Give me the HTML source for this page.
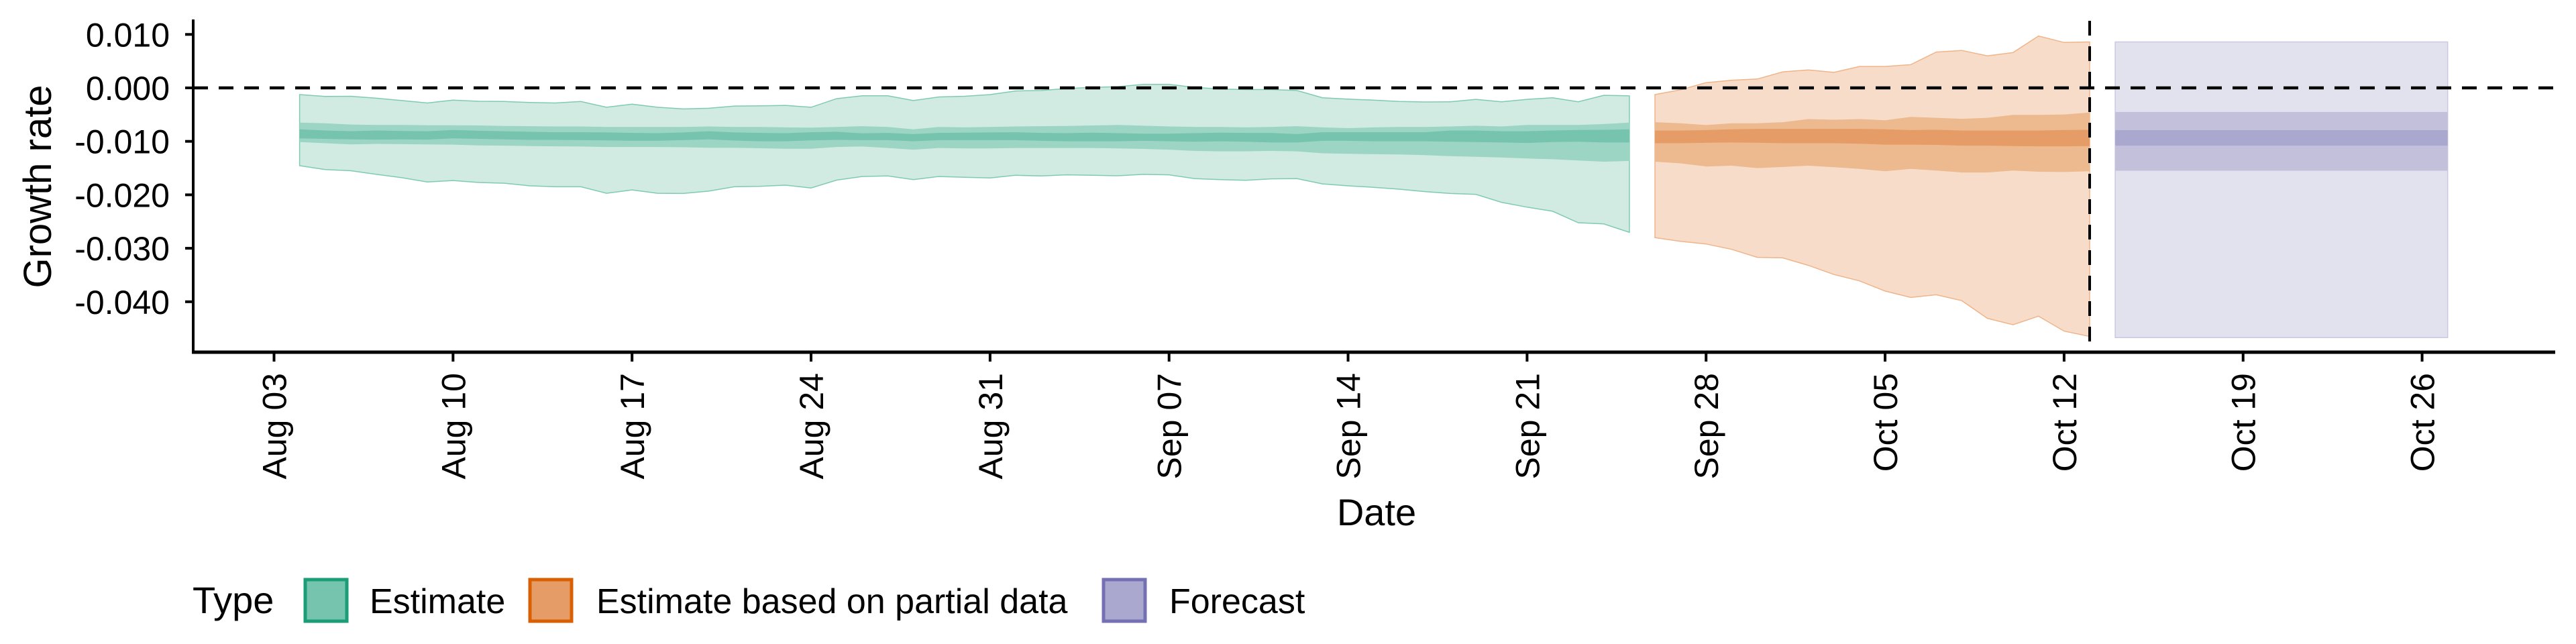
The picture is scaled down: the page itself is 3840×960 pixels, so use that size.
<!DOCTYPE html>
<html><head><meta charset="utf-8"><style>
html,body{margin:0;padding:0;background:#fff}
svg{display:block}
text{font-family:"Liberation Sans",Arial,sans-serif;fill:#000}
</style></head><body>
<svg id="chart" width="3840" height="960" viewBox="0 0 3840 960">
<g id="plot"></g>
<g id="axes"></g>
</svg>
<script>
// Days counted from Aug 03
const estimateStartDay = 1;
const partialStartDay = 54;
const forecastStartDay = 72;
const cutoffDay = 71;
const xTickLabels = ["Aug 03","Aug 10","Aug 17","Aug 24","Aug 31","Sep 07","Sep 14","Sep 21","Sep 28","Oct 05","Oct 12","Oct 19","Oct 26"];
const xTickDays = [0,7,14,21,28,35,42,49,56,63,70,77,84];
const yTickValues = [0.010,0.000,-0.010,-0.020,-0.030,-0.040];
const yTickLabels = ["0.010","0.000","-0.010","-0.020","-0.030","-0.040"];

const estUpper90 = [-0.00126,-0.00161,-0.00157,-0.00193,-0.00237,-0.00282,-0.00229,-0.00251,-0.00255,-0.00273,-0.00282,-0.00255,-0.00363,-0.00305,-0.00363,-0.00394,-0.00381,-0.0034,-0.00336,-0.00327,-0.00363,-0.00202,
-0.00148,-0.00148,-0.00237,-0.0017,-0.00157,-0.00126,-0.00058,-0.00049,-0.00013,0.00009,0.00022,0.00067,0.00067,0.00009,-0.00022,-0.00031,-0.00031,-0.00049,-0.00184,-0.00211,-0.00229,-0.00255,-0.00264,-0.0026,-0.00215,-0.0026,-0.00215,-0.00184,-0.0026,-0.00139,-0.00148];
const estLower90 = [-0.01456,-0.01527,-0.0155,-0.01617,-0.0168,-0.0176,-0.01733,-0.01769,-0.01783,-0.01832,-0.0185,-0.0185,-0.01971,-0.01908,-0.01971,-0.01975,-0.01931,-0.0185,-0.01841,-0.01819,-0.01872,-0.01725,
-0.01657,-0.01648,-0.01716,-0.01657,-0.01671,-0.01684,-0.01635,-0.01648,-0.01626,-0.01635,-0.01644,-0.01617,-0.01626,-0.01698,-0.01716,-0.01729,-0.01702,-0.01698,-0.01796,-0.01832,-0.01859,-0.01895,-0.0194,-0.01975,-0.01993,-0.02141,-0.02231,-0.02307,-0.02522,-0.02544,-0.02701];
const estUpper50 = [-0.0065,-0.00663,-0.00685,-0.00694,-0.00694,-0.00699,-0.00699,-0.00703,-0.00712,-0.00717,-0.00721,-0.00721,-0.0073,-0.0073,-0.0073,-0.0073,-0.00721,-0.0073,-0.0073,-0.00739,-0.00744,-0.0073,
-0.00717,-0.0073,-0.00775,-0.0073,-0.00739,-0.0073,-0.00721,-0.00717,-0.00712,-0.00703,-0.00694,-0.00708,-0.00721,-0.0073,-0.0073,-0.00739,-0.0073,-0.00717,-0.00739,-0.00753,-0.00739,-0.0073,-0.0073,-0.00721,-0.00708,-0.00721,-0.00694,-0.00694,-0.00694,-0.00676,-0.0065];
const estLower50 = [-0.01012,-0.01035,-0.01057,-0.01048,-0.01053,-0.01057,-0.01062,-0.01075,-0.0108,-0.01089,-0.01093,-0.01097,-0.01106,-0.01106,-0.01106,-0.01111,-0.0112,-0.0112,-0.01129,-0.01138,-0.01138,-0.01106,
-0.01097,-0.01124,-0.01156,-0.01124,-0.01133,-0.01133,-0.01124,-0.01124,-0.01124,-0.01124,-0.01133,-0.01142,-0.01156,-0.01178,-0.01187,-0.01187,-0.01178,-0.01187,-0.01223,-0.01232,-0.01241,-0.01245,-0.01259,-0.01277,-0.0129,-0.01303,-0.01321,-0.01335,-0.01357,-0.0138,-0.01366];
const estUpper20 = [-0.00775,-0.00797,-0.00811,-0.00797,-0.00806,-0.00811,-0.00788,-0.00802,-0.00811,-0.0082,-0.00829,-0.00829,-0.00833,-0.00842,-0.00847,-0.00833,-0.00811,-0.00833,-0.00842,-0.00847,-0.00829,-0.0082,
-0.00851,-0.00842,-0.00865,-0.00842,-0.00838,-0.00833,-0.00829,-0.00842,-0.00847,-0.00838,-0.00847,-0.00856,-0.00856,-0.00847,-0.00838,-0.00842,-0.00842,-0.00865,-0.00829,-0.00829,-0.00829,-0.00829,-0.00829,-0.00797,-0.00797,-0.00811,-0.00811,-0.00797,-0.00788,-0.00784,-0.00775];
const estLower20 = [-0.00945,-0.00954,-0.00963,-0.00968,-0.00963,-0.00968,-0.00945,-0.00954,-0.00963,-0.00972,-0.00972,-0.00977,-0.00981,-0.0099,-0.0099,-0.00977,-0.00963,-0.00985,-0.00999,-0.00999,-0.00981,-0.00972,
-0.00977,-0.00977,-0.00999,-0.00977,-0.00977,-0.00977,-0.00977,-0.0099,-0.00999,-0.00999,-0.00999,-0.0099,-0.00999,-0.01008,-0.00999,-0.01008,-0.01021,-0.01021,-0.0099,-0.0099,-0.00999,-0.00999,-0.00999,-0.01008,-0.01012,-0.01021,-0.0103,-0.01012,-0.01008,-0.01021,-0.01021];

const partUpper90 = [-0.00126,-0.00036,0.00098,0.00143,0.00166,0.003,0.00336,0.0029,0.004,0.004,0.00434,0.0067,0.007,0.006,0.0066,0.0097,0.0085,0.0086];
const partLower90 = [-0.028,-0.0287,-0.0292,-0.0302,-0.0317,-0.0318,-0.0332,-0.0349,-0.0361,-0.038,-0.0392,-0.0387,-0.0398,-0.0431,-0.0443,-0.0427,-0.0455,-0.0465];
const partUpper50 = [-0.00641,-0.00663,-0.00695,-0.00663,-0.00663,-0.00641,-0.00583,-0.00596,-0.00583,-0.00605,-0.00542,-0.0056,-0.00578,-0.0056,-0.00506,-0.00506,-0.00497,-0.00462];
const partLower50 = [-0.0138,-0.01411,-0.0147,-0.01456,-0.01501,-0.01479,-0.01456,-0.01483,-0.01514,-0.01559,-0.01514,-0.01546,-0.01582,-0.01582,-0.01546,-0.01568,-0.01573,-0.01559];
const partUpper20 = [-0.00798,-0.00798,-0.00789,-0.00775,-0.00766,-0.00766,-0.00766,-0.00766,-0.00766,-0.00775,-0.00789,-0.00784,-0.00798,-0.00798,-0.00798,-0.00798,-0.00789,-0.00784];
const partLower20 = [-0.01035,-0.01035,-0.01026,-0.01021,-0.01026,-0.01035,-0.01035,-0.01035,-0.01044,-0.01062,-0.01062,-0.01066,-0.0108,-0.0108,-0.01089,-0.01093,-0.01093,-0.01089];

const fcUpper90 = [0.0086,0.0086,0.0086,0.0086,0.0086,0.0086,0.0086,0.0086,0.0086,0.0086,0.0086,0.0086,0.0086,0.0086];
const fcLower90 = [-0.0467,-0.0467,-0.0467,-0.0467,-0.0467,-0.0467,-0.0467,-0.0467,-0.0467,-0.0467,-0.0467,-0.0467,-0.0467,-0.0467];
const fcUpper50 = [-0.0045,-0.0045,-0.0045,-0.0045,-0.0045,-0.0045,-0.0045,-0.0045,-0.0045,-0.0045,-0.0045,-0.0045,-0.0045,-0.0045];
const fcLower50 = [-0.0155,-0.0155,-0.0155,-0.0155,-0.0155,-0.0155,-0.0155,-0.0155,-0.0155,-0.0155,-0.0155,-0.0155,-0.0155,-0.0155];
const fcUpper20 = [-0.0079,-0.0079,-0.0079,-0.0079,-0.0079,-0.0079,-0.0079,-0.0079,-0.0079,-0.0079,-0.0079,-0.0079,-0.0079,-0.0079];
const fcLower20 = [-0.0108,-0.0108,-0.0108,-0.0108,-0.0108,-0.0108,-0.0108,-0.0108,-0.0108,-0.0108,-0.0108,-0.0108,-0.0108,-0.0108];

const NS = "http://www.w3.org/2000/svg";
const X0 = 408.5, PX_PER_DAY = 38.12;
const Y0 = 131, PX_PER_UNIT = 7970;
function xScale(day){ return X0 + day * PX_PER_DAY; }
function yScale(v){ return Y0 - v * PX_PER_UNIT; }
const plot = document.getElementById('plot');
const axes = document.getElementById('axes');
function mk(tag, attrs, parent){
  const e = document.createElementNS(NS, tag);
  for (const k in attrs) e.setAttribute(k, attrs[k]);
  parent.appendChild(e);
  return e;
}
function band(start, up, lo, fill, stroke, name){
  let d = "";
  up.forEach((v,i)=>{ d += (i?"L":"M") + xScale(start+i).toFixed(1) + "," + yScale(v).toFixed(1); });
  for (let i = lo.length-1; i >= 0; i--) d += "L" + xScale(start+i).toFixed(1) + "," + yScale(lo[i]).toFixed(1);
  d += "Z";
  const p = mk('path', {d:d, fill:fill, stroke:stroke||"none", "stroke-width":stroke?1.5:0}, plot);
  
  
}
band(estimateStartDay, estUpper90, estLower90, "#d1ebe2", "#7fcbb2", "estimate-band-90");
band(estimateStartDay, estUpper50, estLower50, "#9cd5c4", null, "estimate-band-50");
band(estimateStartDay, estUpper20, estLower20, "#76c4ad", null, "estimate-band-20");
band(partialStartDay, partUpper90, partLower90, "#f7ddc9", "#efb48a", "partial-band-90");
band(partialStartDay, partUpper50, partLower50, "#edb98f", null, "partial-band-50");
band(partialStartDay, partUpper20, partLower20, "#e69c66", null, "partial-band-20");
band(forecastStartDay, fcUpper90, fcLower90, "#e2e2ee", "#cbc8e2", "forecast-band-90");
band(forecastStartDay, fcUpper50, fcLower50, "#c3c0dc", null, "forecast-band-50");
band(forecastStartDay, fcUpper20, fcLower20, "#aaa8ce", null, "forecast-band-20");

// reference lines
const hz = mk('line', {x1:288, x2:3809, y1:yScale(0), y2:yScale(0), stroke:"#000", "stroke-width":4.5, "stroke-dasharray":"22 16"}, axes);


const vt = mk('line', {x1:xScale(cutoffDay), x2:xScale(cutoffDay), y1:31, y2:525, stroke:"#000", "stroke-width":4, "stroke-dasharray":"22 16"}, axes);



// axes
const ya = mk('line', {x1:288, x2:288, y1:29, y2:527, stroke:"#000", "stroke-width":4}, axes);


const xa = mk('line', {x1:286, x2:3809, y1:525, y2:525, stroke:"#000", "stroke-width":5}, axes);



yTickValues.forEach((v,i)=>{
  const y = yScale(v);
  const t = mk('line', {x1:276, x2:288, y1:y, y2:y, stroke:"#000", "stroke-width":4}, axes);
  
  
  const l = mk('text', {x:253, y:y+18, "text-anchor":"end", "font-size":50}, axes);
  l.textContent = yTickLabels[i];
  
  
});
xTickDays.forEach((d,i)=>{
  const x = xScale(d);
  const t = mk('line', {x1:x, x2:x, y1:525, y2:539, stroke:"#000", "stroke-width":4}, axes);
  
  
  const l = mk('text', {x:0, y:0, "text-anchor":"end", "font-size":50, transform:"translate(" + (x+18) + ",556) rotate(-90)"}, axes);
  l.textContent = xTickLabels[i];
  
  
});
const yt = mk('text', {x:0, y:0, "text-anchor":"middle", "font-size":58, transform:"translate(76,278) rotate(-90)"}, axes);
yt.textContent = "Growth rate";


const xt = mk('text', {x:2052, y:783, "text-anchor":"middle", "font-size":56}, axes);
xt.textContent = "Date";


</script>
<svg width="3840" height="960" style="position:absolute;left:0;top:0;pointer-events:none">
<text x="287" y="914" font-size="56">Type</text>
<g>
<rect x="455" y="864" width="62" height="62" fill="#76c4ad" stroke="#1b9e77" stroke-width="5"/>
<text x="551" y="914" font-size="52">Estimate</text></g>
<g>
<rect x="790" y="864" width="62" height="62" fill="#e69c66" stroke="#d95f02" stroke-width="5"/>
<text x="889" y="914" font-size="52">Estimate based on partial data</text></g>
<g>
<rect x="1645" y="864" width="62" height="62" fill="#aaa8ce" stroke="#7570b3" stroke-width="5"/>
<text x="1743" y="914" font-size="52">Forecast</text></g>
</svg>
</body></html>
